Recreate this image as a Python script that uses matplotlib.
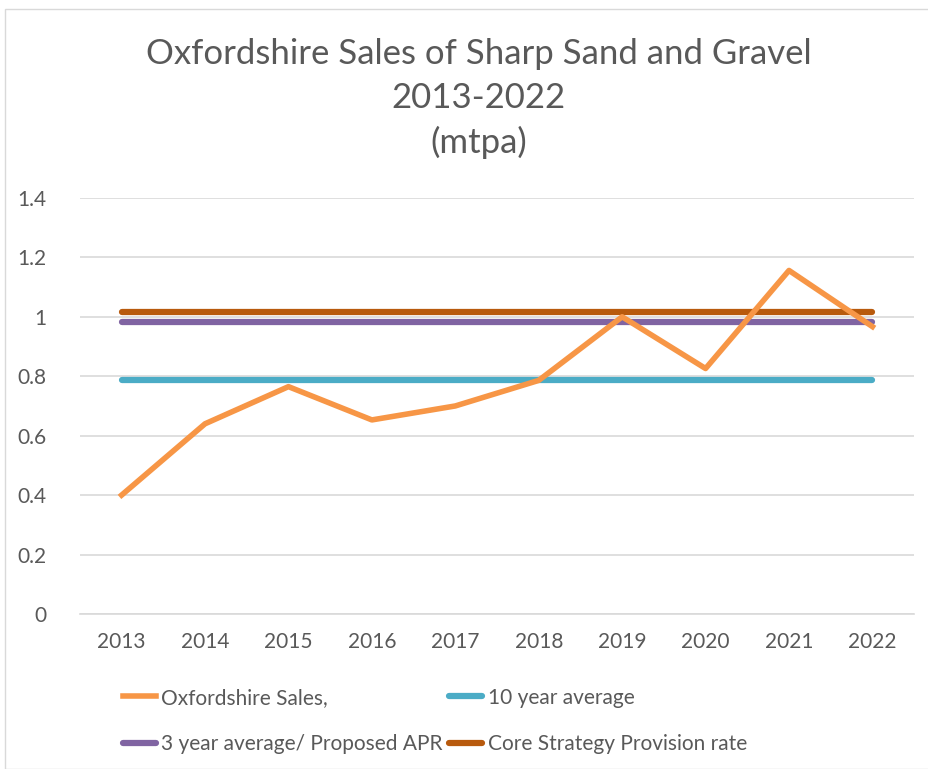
import matplotlib
matplotlib.use("Agg")
import matplotlib.pyplot as plt
from matplotlib.patches import Rectangle

plt.rcParams["font.family"] = ["Lato", "DejaVu Sans"]

years = [2013, 2014, 2015, 2016, 2017, 2018, 2019, 2020, 2021, 2022]
sales = [0.40, 0.64, 0.765, 0.653, 0.70, 0.786, 1.00, 0.826, 1.156, 0.967]
ten_year_avg = [0.789] * 10
three_year_avg = [0.983] * 10
core_strategy = [1.015] * 10

y_ticks = [0, 0.2, 0.4, 0.6, 0.8, 1.0, 1.2, 1.4]
y_labels = ["0", "0.2", "0.4", "0.6", "0.8", "1", "1.2", "1.4"]

TEXT = "#595959"

fig = plt.figure(figsize=(9.29, 7.69), dpi=100)
fig.patches.append(Rectangle((0.005, 0.0), 1.2, 0.988, transform=fig.transFigure,
                             fill=False, edgecolor="#d9d9d9", lw=1))
ax = fig.add_axes([0.086, 0.2016, 0.898, 0.541])

ax.plot(years, sales, color="#f79646", lw=4, label="Oxfordshire Sales,", zorder=3)
ax.plot(years, ten_year_avg, color="#4bacc6", lw=4.5, label="10 year average", solid_capstyle="round", zorder=2)
ax.plot(years, three_year_avg, color="#8064a2", lw=4.5, label="3 year average/ Proposed APR", solid_capstyle="round", zorder=2)
ax.plot(years, core_strategy, color="#b85a0d", lw=4.5, label="Core Strategy Provision rate", solid_capstyle="round", zorder=2)

ax.set_xlim(2012.5, 2022.5)
ax.set_ylim(0, 1.4)
ax.set_xticks(years)
ax.set_xticklabels([str(y) for y in years])
ax.set_yticks(y_ticks)
ax.set_yticklabels(y_labels)
ax.grid(axis="y", color="#d9d9d9", lw=1.2)
ax.set_axisbelow(True)
for s in ["top", "right", "left"]:
    ax.spines[s].set_visible(False)
ax.spines["bottom"].set_color("#d9d9d9")
ax.spines["bottom"].set_linewidth(1.2)
ax.tick_params(length=0, colors=TEXT, labelsize=15, pad=13)
ax.tick_params(axis="y", pad=24)

fig.text(0.515, 0.872, "Oxfordshire Sales of Sharp Sand and Gravel\n2013-2022\n(mtpa)",
         ha="center", va="center", fontsize=25, color=TEXT, linespacing=1.45)

handles, labels = ax.get_legend_handles_labels()
order = [0, 2, 1, 3]
leg = fig.legend([handles[i] for i in order], [labels[i] for i in order],
                 loc="upper left", bbox_to_anchor=(0.112, 0.13), ncol=2, frameon=False,
                 fontsize=15, handlelength=1.6, handletextpad=0.25, columnspacing=0.3,
                 labelspacing=1.25, labelcolor=TEXT)

fig.savefig("out.png", dpi=100)
